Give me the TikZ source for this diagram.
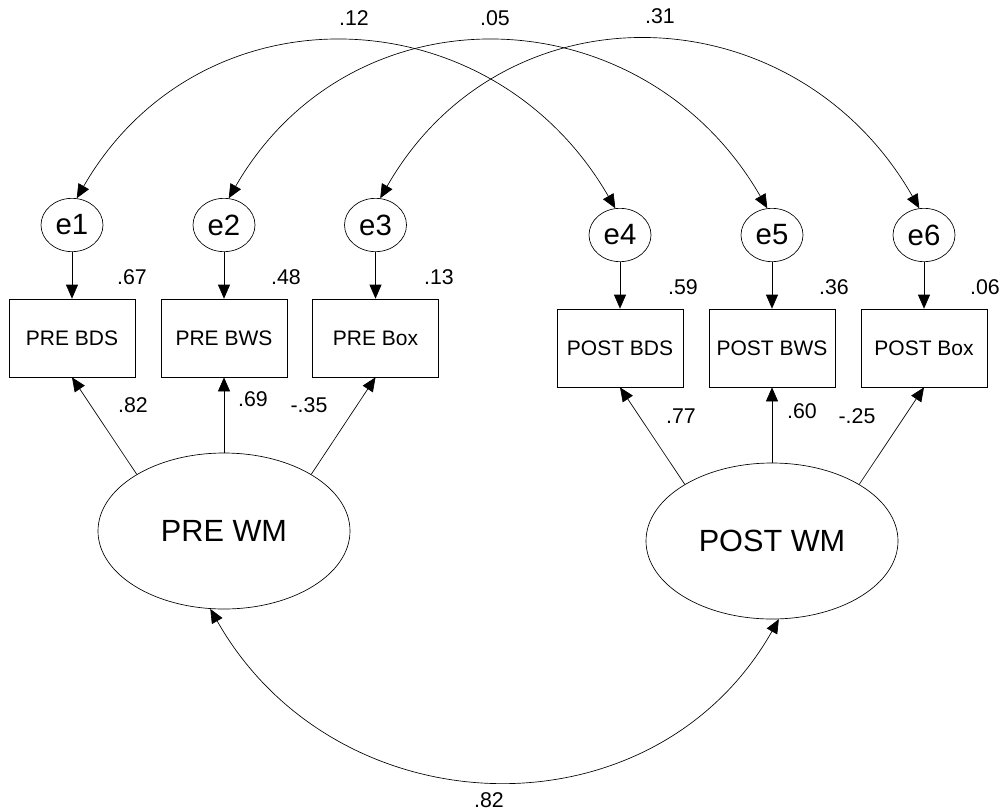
\documentclass[tikz,border=0pt]{standalone}
\usepackage{fontspec}
\setmainfont{Liberation Sans}
\usetikzlibrary{arrows.meta,shapes.geometric}
\begin{document}
\begin{tikzpicture}[x=0.75pt,y=-0.75pt,
  every node/.style={inner sep=0pt},
  errv/.style={ellipse,draw,line width=0.5pt,minimum width=46.5pt,minimum height=40pt,font=\fontsize{22pt}{26pt}\selectfont},
  obs/.style={rectangle,draw,line width=0.5pt,minimum width=94.5pt,minimum height=58.5pt,font=\fontsize{15.75pt}{18pt}\selectfont},
  lat/.style={ellipse,draw,line width=0.5pt,minimum width=189pt,minimum height=117pt,font=\fontsize{23pt}{27pt}\selectfont},
  lbl/.style={font=\fontsize{16pt}{19pt}\selectfont},
  arr/.style={-{Triangle[length=10.5pt,width=9pt]},line width=0.5pt},
  cov/.style={{Triangle[length=10.5pt,width=9pt]}-{Triangle[length=10.5pt,width=9pt]},line width=0.5pt}]
\useasboundingbox (0,0) rectangle (1005,810);
% error terms
\node[errv] (e1) at (72,225) {e1};
\node[errv] (e2) at (224,225) {e2};
\node[errv] (e3) at (375.5,225) {e3};
\node[errv] (e4) at (620,235) {e4};
\node[errv] (e5) at (772,235) {e5};
\node[errv] (e6) at (924,235) {e6};
% observed
\node[obs] (b1) at (72,338) {PRE BDS};
\node[obs] (b2) at (224,338) {PRE BWS};
\node[obs] (b3) at (375.5,338) {PRE Box};
\node[obs] (b4) at (620,348) {POST BDS};
\node[obs] (b5) at (772,348) {POST BWS};
\node[obs] (b6) at (924,348) {POST Box};
% latent
\node[lat] (prewm) at (224,531) {PRE WM};
\node[lat] (postwm) at (772,541) {POST WM};
% error arrows
\foreach \i in {1,...,6} {\draw[arr] (e\i) -- (b\i);}
% loadings
\draw[arr] (prewm.147) -- (b1.south);
\draw[arr] (prewm.north) -- (b2.south);
\draw[arr] (prewm.33) -- (b3.south);
\draw[arr] (postwm.147) -- (b4.south);
\draw[arr] (postwm.north) -- (b5.south);
\draw[arr] (postwm.33) -- (b6.south);
% covariances
\draw[cov] (e1.80) .. controls +(124,-215) and +(-124,-215) .. (e4.100);
\draw[cov] (e2.80) .. controls +(124,-215) and +(-124,-215) .. (e5.100);
\draw[cov] (e3.80) .. controls +(124,-217) and +(-124,-217) .. (e6.100);
\draw[cov] (prewm.260) .. controls +(126,222) and +(-126,222) .. (postwm.275);
% labels
\node[lbl] (l12) at (354,18) {.12};
\node[lbl] (l05) at (495,18) {.05};
\node[lbl] (l31) at (660,16) {.31};
\node[lbl] (v1) at (132,277) {.67};
\node[lbl] (v2) at (286,277) {.48};
\node[lbl] (v3) at (439,277) {.13};
\node[lbl] (v4) at (683,287) {.59};
\node[lbl] (v5) at (834,287) {.36};
\node[lbl] (v6) at (985,287) {.06};
\node[lbl] (w1) at (133,405) {.82};
\node[lbl] (w2) at (253,399) {.69};
\node[lbl] (w3) at (309,405) {-.35};
\node[lbl] (w4) at (681,416) {.77};
\node[lbl] (w5) at (802,411) {.60};
\node[lbl] (w6) at (857,416) {-.25};
\node[lbl] (r) at (489,800) {.82};
\end{tikzpicture}
\end{document}
